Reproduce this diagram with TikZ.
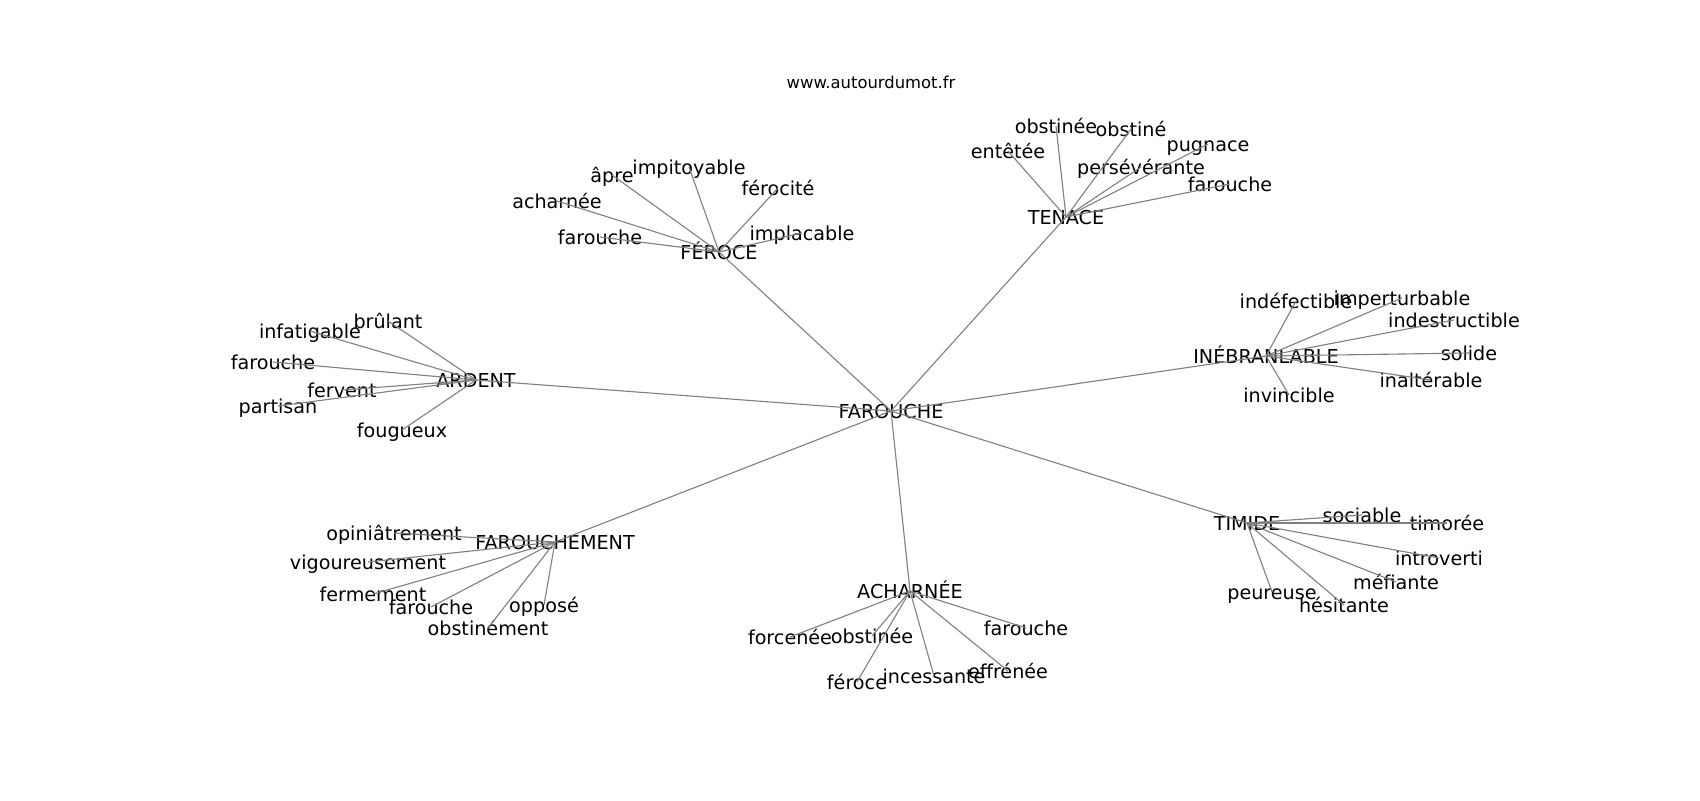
\documentclass[tikz,border=0pt]{standalone}
\usepackage{fontspec}
\setmainfont{DejaVu Sans}
\definecolor{edgec}{RGB}{128,128,128}
\begin{document}
\begin{tikzpicture}[x=0.72pt,y=-0.72pt,
  lbl/.style={font=\fontsize{13.8}{16}\selectfont, inner sep=0pt, text height=13pt, text depth=2.8pt},
  ttl/.style={font=\fontsize{11.8}{14}\selectfont, inner sep=0pt},
  edge/.style={draw=edgec, line width=0.8pt}]
\useasboundingbox (0,0) rectangle (1700,800);
\node[ttl] (title) at (871,82) {www.autourdumot.fr};
% hubs
\node[lbl] (c) at (891,411) {FAROUCHE};
\node[lbl] (fer) at (719,252) {FÉROCE};
\node[lbl] (ten) at (1066,217) {TENACE};
\node[lbl] (ard) at (476,380) {ARDENT};
\node[lbl] (ine) at (1266,356) {INÉBRANLABLE};
\node[lbl] (frm) at (555,542) {FAROUCHEMENT};
\node[lbl] (ach) at (910,591) {ACHARNÉE};
\node[lbl] (tim) at (1247,523) {TIMIDE};
% FEROCE
\node[lbl] (fer1) at (612,175) {âpre};
\node[lbl] (fer2) at (689,167) {impitoyable};
\node[lbl] (fer3) at (778,188) {férocité};
\node[lbl] (fer4) at (557,201) {acharnée};
\node[lbl] (fer5) at (600,237) {farouche};
\node[lbl] (fer6) at (802,233) {implacable};
% TENACE
\node[lbl] (ten1) at (1056,126) {obstinée};
\node[lbl] (ten2) at (1131,129) {obstiné};
\node[lbl] (ten3) at (1008,151) {entêtée};
\node[lbl] (ten4) at (1208,144) {pugnace};
\node[lbl] (ten5) at (1141,167) {persévérante};
\node[lbl] (ten6) at (1230,184) {farouche};
% ARDENT
\node[lbl] (ard1) at (388,321) {brûlant};
\node[lbl] (ard2) at (310,331) {infatigable};
\node[lbl] (ard3) at (273,362) {farouche};
\node[lbl] (ard4) at (342,390) {fervent};
\node[lbl] (ard5) at (278,406) {partisan};
\node[lbl] (ard6) at (402,430) {fougueux};
% INEBRANLABLE
\node[lbl] (ine1) at (1296,301) {indéfectible};
\node[lbl] (ine2) at (1402,298) {imperturbable};
\node[lbl] (ine3) at (1454,320) {indestructible};
\node[lbl] (ine4) at (1469,353) {solide};
\node[lbl] (ine5) at (1431,380) {inaltérable};
\node[lbl] (ine6) at (1289,395) {invincible};
% FAROUCHEMENT
\node[lbl] (frm1) at (394,533) {opiniâtrement};
\node[lbl] (frm2) at (368,562) {vigoureusement};
\node[lbl] (frm3) at (373,594) {fermement};
\node[lbl] (frm4) at (431,607) {farouche};
\node[lbl] (frm5) at (544,605) {opposé};
\node[lbl] (frm6) at (488,628) {obstinément};
% ACHARNEE
\node[lbl] (ach1) at (790,637) {forcenée};
\node[lbl] (ach2) at (872,636) {obstinée};
\node[lbl] (ach3) at (857,682) {féroce};
\node[lbl] (ach4) at (934,676) {incessante};
\node[lbl] (ach5) at (1008,671) {effrénée};
\node[lbl] (ach6) at (1026,628) {farouche};
% TIMIDE
\node[lbl] (tim1) at (1362,515) {sociable};
\node[lbl] (tim2) at (1447,523) {timorée};
\node[lbl] (tim3) at (1439,558) {introverti};
\node[lbl] (tim4) at (1396,582) {méfiante};
\node[lbl] (tim5) at (1272,592) {peureuse};
\node[lbl] (tim6) at (1344,605) {hésitante};
% edges
\foreach \h in {fer,ten,ard,ine,frm,ach,tim}
  \draw[edge] (c.center) -- (\h.center);
\foreach \h in {fer,ten,ard,ine,frm,ach,tim}
  \foreach \i in {1,...,6}
    \draw[edge] (\h.center) -- (\h\i.center);
\end{tikzpicture}
\end{document}
